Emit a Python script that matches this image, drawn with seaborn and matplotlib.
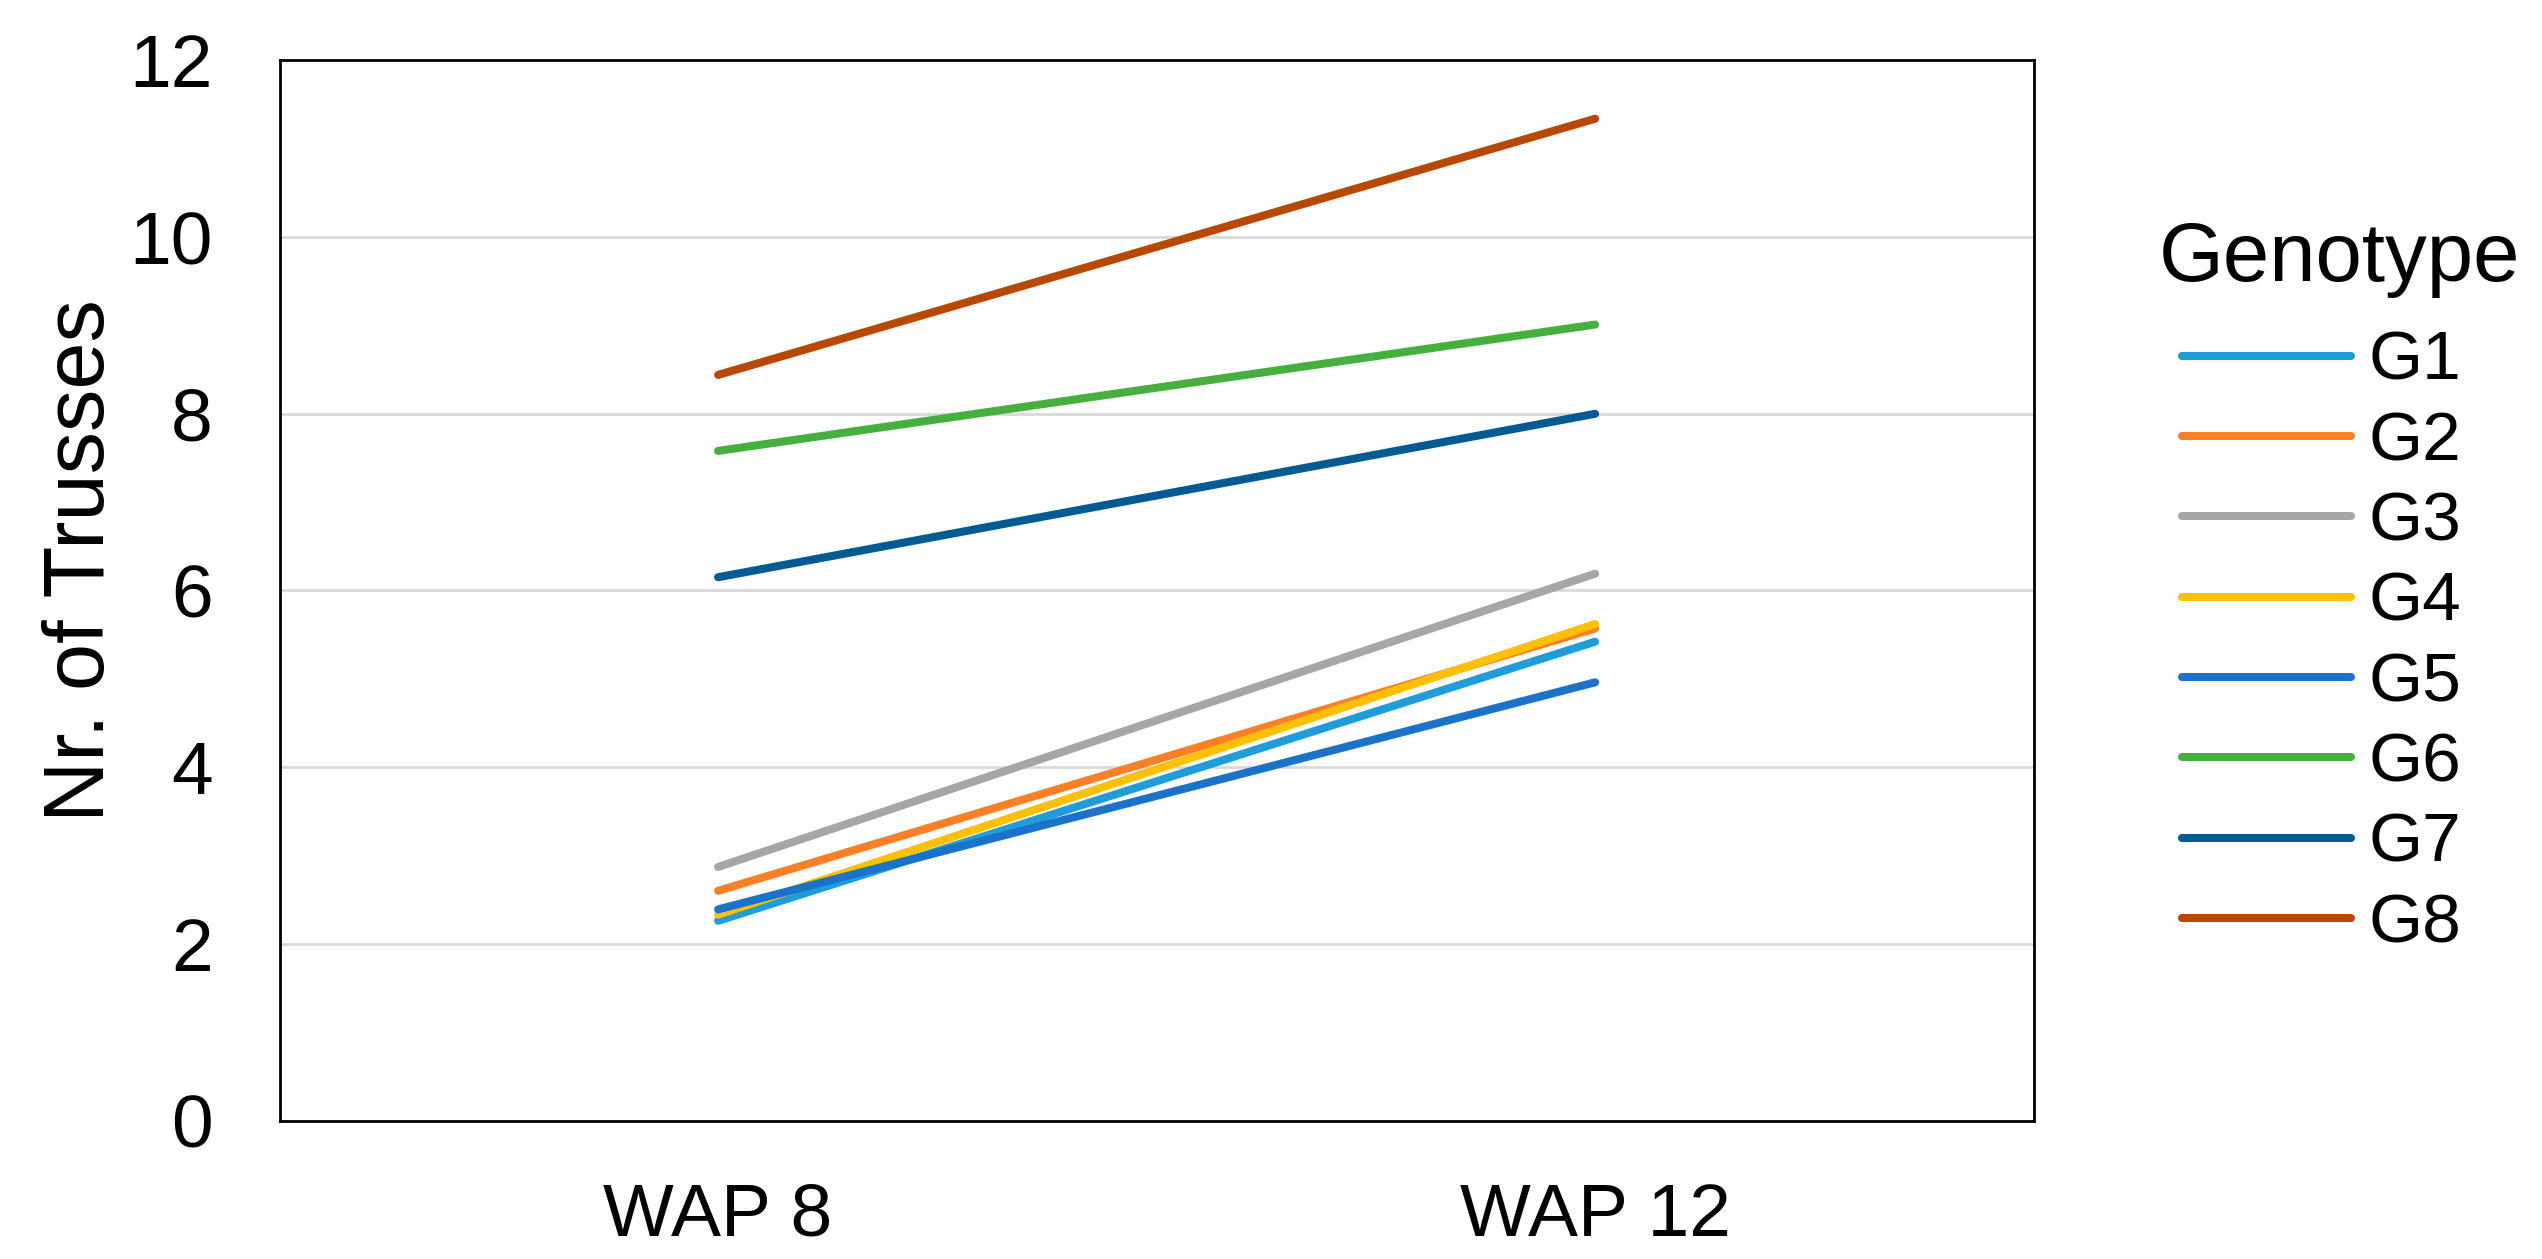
import matplotlib
matplotlib.use("Agg")
import matplotlib.pyplot as plt
import seaborn as sns
import pandas as pd

weeks = ["WAP 8", "WAP 12"]
genotypes = ["G1", "G2", "G3", "G4", "G5", "G6", "G7", "G8"]
wap8 = [2.26, 2.60, 2.87, 2.33, 2.39, 7.58, 6.15, 8.44]
wap12 = [5.42, 5.57, 6.19, 5.62, 4.96, 9.01, 8.00, 11.34]
colors = ["#1F9CDA", "#FF7F27", "#A6A6A6", "#FFC000", "#1A73C8", "#46B03E", "#005B94", "#B84700"]

rows = []
for g, a, b in zip(genotypes, wap8, wap12):
    rows.append({"Week": weeks[0], "Genotype": g, "Trusses": a})
    rows.append({"Week": weeks[1], "Genotype": g, "Trusses": b})
df = pd.DataFrame(rows)

sns.set_theme(style="white")
plt.rcParams["font.family"] = ["Liberation Sans", "DejaVu Sans"]
plt.rcParams["text.color"] = "black"

W, H = 2542, 1259
fig = plt.figure(figsize=(W / 100, H / 100), dpi=100)
ax = fig.add_axes([0.110, 0.110, 0.690, 0.842])

sns.lineplot(data=df, x="Week", y="Trusses", hue="Genotype", hue_order=genotypes,
             palette=dict(zip(genotypes, colors)), linewidth=5.8, ax=ax, sort=False,
             legend=True)
for ln in ax.lines:
    ln.set_linewidth(5.8)
    ln.set_solid_capstyle("round")

ax.set_xlim(-0.5, 1.5)
ax.set_ylim(0, 12)
ax.set_yticks([0, 2, 4, 6, 8, 10, 12])
ax.yaxis.grid(True, color="#D9D9D9", linewidth=2)
ax.xaxis.grid(False)
ax.set_axisbelow(True)
for s in ax.spines.values():
    s.set_color("black")
    s.set_linewidth(2)
ax.tick_params(axis="both", labelsize=54, length=0, colors="black")
ax.tick_params(axis="y", pad=48)
ax.tick_params(axis="x", pad=44)
ax.set_xlabel("")
ax.set_ylabel("Nr. of Trusses", fontsize=61, color="black")
ax.yaxis.set_label_coords(-0.090, 0.528)

handles, labels = ax.get_legend_handles_labels()
if ax.legend_:
    ax.legend_.remove()
leg = fig.legend(handles, labels, loc="upper left",
                 bbox_to_anchor=(2182 / W, 1 - 330 / H), bbox_transform=fig.transFigure,
                 frameon=False, fontsize=50, borderpad=0, borderaxespad=0,
                 handlelength=2.43, handletextpad=0.25, labelspacing=0.235)
for line in leg.get_lines():
    line.set_linewidth(5.8)
    line.set_solid_capstyle("round")
for t in leg.get_texts():
    t.set_color("black")
fig.text(2159 / W, 1 - 259 / H, "Genotype", fontsize=60, va="center", ha="left", color="black")

fig.savefig("out.png", dpi=100, facecolor="white")
